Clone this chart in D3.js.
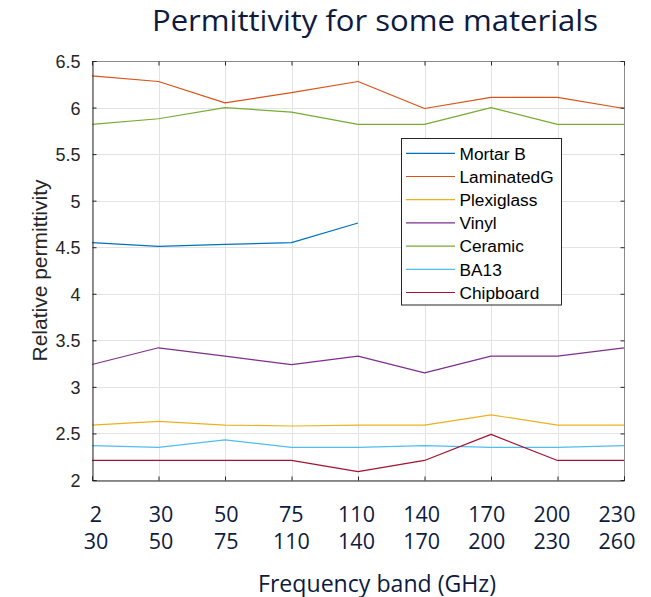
<!DOCTYPE html>
<html>
<head>
<meta charset="utf-8">
<script src="https://cdn.jsdelivr.net/npm/d3@7"></script>
<style>
  html, body { margin: 0; padding: 0; background: #ffffff; }
  svg { display: block; }
</style>
</head>
<body>
<div id="chart"></div>
<script>
// Frequency bands (GHz): lower and upper edges
const bandLow  = [2, 30, 50, 75, 110, 140, 170, 200, 230];
const bandHigh = [30, 50, 75, 110, 140, 170, 200, 230, 260];

// Relative permittivity per band, one list per material
const seriesNames = ["Mortar B", "LaminatedG", "Plexiglass", "Vinyl", "Ceramic", "BA13", "Chipboard"];
const mortarB    = [4.55, 4.51, 4.53, 4.55, 4.76, null, null, null, null];
const laminatedG = [6.34, 6.28, 6.05, 6.16, 6.28, 5.99, 6.11, 6.11, 5.99];
const plexiglass = [2.59, 2.63, 2.59, 2.58, 2.59, 2.59, 2.70, 2.59, 2.59];
const vinyl      = [3.24, 3.42, 3.33, 3.24, 3.33, 3.15, 3.33, 3.33, 3.42];
const ceramic    = [5.82, 5.88, 6.00, 5.95, 5.82, 5.82, 6.00, 5.82, 5.82];
const ba13       = [2.37, 2.35, 2.43, 2.35, 2.35, 2.37, 2.35, 2.35, 2.37];
const chipboard  = [2.21, 2.21, 2.21, 2.21, 2.09, 2.21, 2.49, 2.21, 2.21];

const yTicks = [2, 2.5, 3, 3.5, 4, 4.5, 5, 5.5, 6, 6.5];

const seriesValues = [mortarB, laminatedG, plexiglass, vinyl, ceramic, ba13, chipboard];
const colors = ["#0072BD", "#D95319", "#EDB120", "#7E2F8E", "#77AC30", "#4DBEEE", "#A2142F"];

const W = 651, H = 597;
const plot = { left: 92, right: 624, top: 61, bottom: 480 };
const navy = "#0e1a3e";
const axisColor = "#262626";

const svg = d3.select("#chart").append("svg")
  .attr("width", W).attr("height", H);

const idx = d3.range(bandLow.length);
const x = d3.scalePoint().domain(idx).range([plot.left, plot.right]);
const xLabelPos = d3.scalePoint().domain(idx).range([96, 617]);
const y = d3.scaleLinear().domain([2, 6.5]).range([plot.bottom, plot.top]);

// Grid
const grid = svg.append("g").attr("stroke", "#e3e3e3").attr("stroke-width", 1);
grid.selectAll("line.gx").data(idx).join("line")
  .attr("x1", d => Math.round(x(d)) + 0.5).attr("x2", d => Math.round(x(d)) + 0.5)
  .attr("y1", plot.top).attr("y2", plot.bottom);
grid.selectAll("line.gy").data(yTicks).join("line")
  .attr("x1", plot.left).attr("x2", plot.right)
  .attr("y1", d => Math.round(y(d)) + 0.5).attr("y2", d => Math.round(y(d)) + 0.5);

// Series lines
const line = d3.line()
  .defined(d => d.v != null)
  .x(d => x(d.i))
  .y(d => y(d.v));

svg.append("g").selectAll("path").data(seriesValues).join("path")
  .attr("fill", "none")
  .attr("stroke", (d, i) => colors[i])
  .attr("stroke-width", 1.2)
  .attr("stroke-linejoin", "round")
  .attr("d", vals => line(vals.map((v, i) => ({ i, v }))));

// Frame: top/right edges lighter, left/bottom dark
const frame = svg.append("g").attr("fill", "none").attr("stroke-width", 1);
frame.append("line").attr("x1", plot.left).attr("x2", plot.right)
  .attr("y1", plot.top + 0.5).attr("y2", plot.top + 0.5).attr("stroke", "#8c8c8c");
frame.append("line").attr("x1", plot.right + 0.5).attr("x2", plot.right + 0.5)
  .attr("y1", plot.top).attr("y2", plot.bottom).attr("stroke", "#8c8c8c");

// Left axis with inward ticks
const yAxis = d3.axisLeft(y).tickValues(yTicks).tickSize(-4).tickPadding(12)
  .tickFormat(d => d3.format("")(d));
const gy = svg.append("g").attr("transform", `translate(${plot.left + 0.5},0)`).call(yAxis);
gy.select(".domain").attr("stroke", axisColor);
gy.selectAll(".tick line").attr("stroke", axisColor);
gy.selectAll(".tick text")
  .attr("fill", axisColor)
  .attr("font-family", "'Liberation Sans', Arial, sans-serif")
  .attr("font-size", 18)
  .attr("dy", "0.36em");

// Right axis ticks (no labels)
const gyr = svg.append("g").attr("transform", `translate(${plot.right + 0.5},0)`)
  .call(d3.axisRight(y).tickValues(yTicks).tickSize(-4).tickFormat(""));
gyr.select(".domain").remove();
gyr.selectAll(".tick line").attr("stroke", axisColor);

// Bottom axis with inward ticks
const gx = svg.append("g").attr("transform", `translate(0,${plot.bottom + 0.5})`)
  .call(d3.axisBottom(x).tickSize(-4).tickFormat(""));
gx.select(".domain").attr("stroke", axisColor);
gx.selectAll(".tick line").attr("stroke", axisColor);

// Top axis ticks
const gxt = svg.append("g").attr("transform", `translate(0,${plot.top + 0.5})`)
  .call(d3.axisTop(x).tickSize(-4).tickFormat(""));
gxt.select(".domain").remove();
gxt.selectAll(".tick line").attr("stroke", axisColor);

// Band labels, two rows
const bandFont = "'Open Sans', 'Noto Sans', sans-serif";
const bandLabels = svg.append("g")
  .attr("font-family", bandFont).attr("font-size", 21.5)
  .attr("fill", navy).attr("text-anchor", "middle");
bandLabels.selectAll("text.lo").data(idx).join("text")
  .attr("class", "lo")
  .attr("x", d => xLabelPos(d)).attr("y", 521.5)
  .text(d => bandLow[d]);
bandLabels.selectAll("text.hi").data(idx).join("text")
  .attr("class", "hi")
  .attr("x", d => xLabelPos(d)).attr("y", 549)
  .text(d => bandHigh[d]);

// Axis titles
svg.append("text")
  .attr("x", 377).attr("y", 591.5)
  .attr("text-anchor", "middle")
  .attr("font-family", bandFont).attr("font-size", 23)
  .attr("fill", navy)
  .attr("textLength", 238).attr("lengthAdjust", "spacingAndGlyphs")
  .text("Frequency band (GHz)");

svg.append("text")
  .attr("transform", "translate(47,270.5) rotate(-90)")
  .attr("text-anchor", "middle")
  .attr("font-family", "'Liberation Sans', Arial, sans-serif")
  .attr("font-size", 21)
  .attr("fill", axisColor)
  .text("Relative permittivity");

// Chart title
svg.append("text")
  .attr("x", 375).attr("y", 31)
  .attr("text-anchor", "middle")
  .attr("font-family", bandFont).attr("font-size", 28.5)
  .attr("fill", navy)
  .attr("textLength", 446).attr("lengthAdjust", "spacingAndGlyphs")
  .text("Permittivity for some materials");

// Legend
const leg = { x: 401.5, y: 138.5, w: 160, h: 166.5, row0: 153.3, rowStep: 23.2 };
const lg = svg.append("g");
lg.append("rect")
  .attr("x", leg.x).attr("y", leg.y).attr("width", leg.w).attr("height", leg.h)
  .attr("fill", "#ffffff").attr("stroke", axisColor).attr("stroke-width", 1);
const items = lg.selectAll("g.item").data(seriesNames).join("g")
  .attr("transform", (d, i) => `translate(0,${leg.row0 + i * leg.rowStep})`);
items.append("line")
  .attr("x1", 406).attr("x2", 455).attr("y1", 0).attr("y2", 0)
  .attr("stroke", (d, i) => colors[i]).attr("stroke-width", 1.2);
items.append("text")
  .attr("x", 459.5).attr("y", 0).attr("dy", "0.36em")
  .attr("font-family", "'Liberation Sans', Arial, sans-serif")
  .attr("font-size", 17.3)
  .attr("fill", "#000000")
  .text(d => d);
</script>
</body>
</html>
